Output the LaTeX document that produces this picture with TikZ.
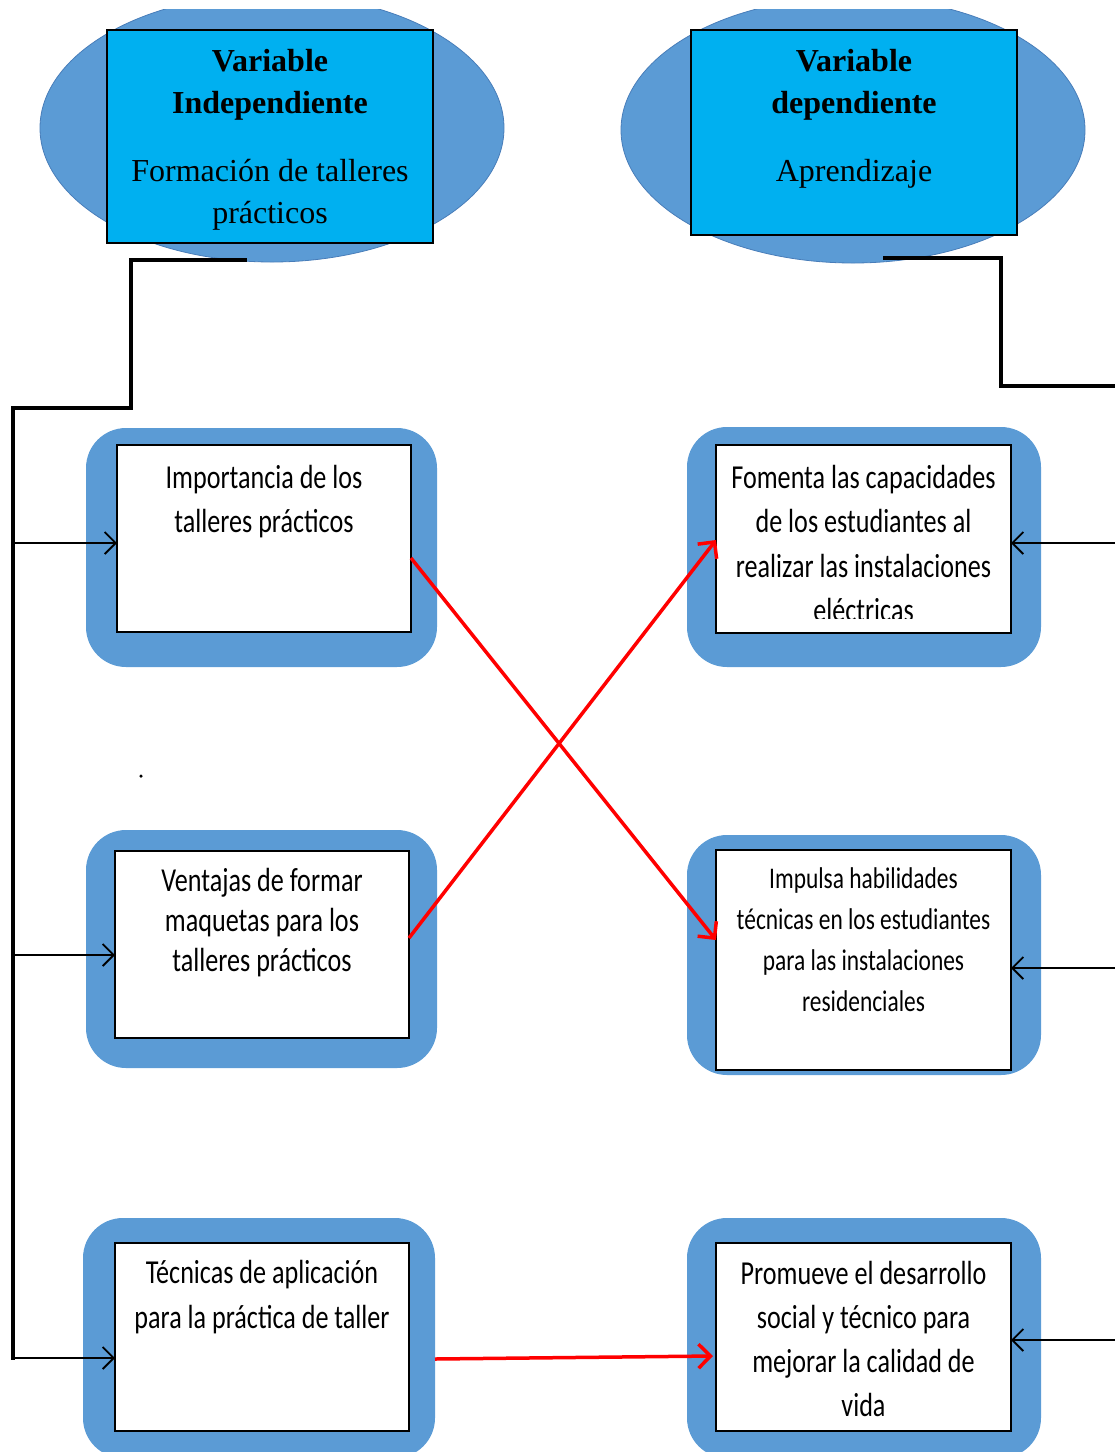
\documentclass[tikz,border=0pt]{standalone}
\usepackage{fontspec}
\setmainfont{Liberation Serif}
\newfontfamily\boxfont[FakeStretch=0.78]{Carlito}
\usetikzlibrary{shapes.geometric,arrows.meta,calc}
\definecolor{ovalblue}{RGB}{91,155,213}
\definecolor{ovaledge}{RGB}{72,125,185}
\definecolor{headcyan}{RGB}{0,176,240}
\definecolor{linkred}{RGB}{255,0,0}

\begin{document}
\begin{tikzpicture}[x=1pt,y=-1pt,
  oval/.style={ellipse, fill=ovalblue, draw=ovaledge, line width=0.8pt,
    inner sep=0pt, outer sep=0pt, minimum width=464pt},
  headbox/.style={rectangle, fill=headcyan, draw=black, line width=1.2pt,
    inner sep=0pt, outer sep=0pt, minimum width=326pt},
  headtext/.style={align=center, inner sep=0pt, anchor=north,
    font=\fontsize{32}{42}\selectfont},
  tile/.style={rectangle, rounded corners=40pt, fill=ovalblue,
    inner sep=0pt, outer sep=0pt},
  card/.style={rectangle, fill=white, draw=black, line width=2.7pt,
    inner sep=0pt, outer sep=0pt},
  cardtext/.style={align=center, inner sep=0pt, anchor=north},
  trunk/.style={line width=4pt},
  feed/.style={line width=1.8pt, -{Straight Barb[length=11pt,width=22pt]}},
  redlink/.style={draw=linkred, line width=3.5pt,
    -{Straight Barb[length=12pt,width=24pt]}},
]
\useasboundingbox (0,0) rectangle (1115,1452);
\clip (0,9) rectangle (1115,1452);

% variable ovals with their title boxes
\node[oval, minimum height=268pt] (e1) at (272,128) {};
\node[oval, minimum height=266pt] (e2) at (853,130) {};
\node[headbox, minimum height=213pt] (r1) at (270,136.5) {};
\node[headbox, minimum height=205pt] (r2) at (854,132.5) {};
\node[headtext] (h1) at ([yshift=-11.5pt]r1.north)
  {\strut\textbf{Variable}\\\textbf{Independiente}\\[26pt]Formación de talleres\\prácticos};
\node[headtext] (h2) at ([yshift=-11.5pt]r2.north)
  {\strut\textbf{Variable}\\\textbf{dependiente}\\[26pt]Aprendizaje};

% rounded blue frames
\node[tile, minimum width=351pt, minimum height=239pt] (o1) at (261.5,547.5) {};
\node[tile, minimum width=351pt, minimum height=238pt] (o2) at (261.5,949) {};
\node[tile, minimum width=352pt, minimum height=240pt] (o3) at (259,1338) {};
\node[tile, minimum width=354pt, minimum height=240pt] (o4) at (864,547) {};
\node[tile, minimum width=354pt, minimum height=240pt] (o5) at (864,955) {};
\node[tile, minimum width=354pt, minimum height=240pt] (o6) at (864,1338) {};

% white cards
\node[card, minimum width=294pt, minimum height=187pt] (i1) at (264,538.5) {};
\node[card, minimum width=294pt, minimum height=187pt] (i2) at (262,944.5) {};
\node[card, minimum width=294pt, minimum height=188pt] (i3) at (262,1337) {};
\node[card, minimum width=295pt, minimum height=188pt] (i4) at (863.5,539) {};
\node[card, minimum width=295pt, minimum height=220pt] (i5) at (863.5,960) {};
\node[card, minimum width=295pt, minimum height=188pt] (i6) at (863.5,1337) {};

% card texts
\node[cardtext, font=\boxfont\fontsize{33.5}{44}\selectfont] (t1)
  at ([yshift=-12pt]i1.north) {\strut Importancia de los\\talleres prácticos};
\node[cardtext, font=\boxfont\fontsize{33.5}{40}\selectfont] (t2)
  at ([yshift=-12pt]i2.north) {\strut Ventajas de formar\\maquetas para los\\talleres prácticos};
\node[cardtext, font=\boxfont\fontsize{33.5}{45}\selectfont] (t3)
  at ([yshift=-8.5pt]i3.north) {\strut Técnicas de aplicación\\para la práctica de taller};
\begin{scope}
  % the last line runs past the card and is cut off
  \clip (i4.north west) rectangle ([yshift=15pt]i4.south east);
  \node[cardtext, font=\boxfont\fontsize{33.5}{44.5}\selectfont] (t4)
    at ([yshift=-12pt]i4.north) {\strut Fomenta las capacidades\\de los estudiantes al\\realizar las instalaciones\\eléctricas};
\end{scope}
\node[cardtext, font=\boxfont\fontsize{30}{41}\selectfont] (t5)
  at ([yshift=-9.3pt]i5.north) {\strut Impulsa habilidades\\técnicas en los estudiantes\\para las instalaciones\\residenciales};
\node[cardtext, font=\boxfont\fontsize{33.5}{44}\selectfont] (t6)
  at ([yshift=-10pt]i6.north) {\strut Promueve el desarrollo\\social y técnico para\\mejorar la calidad de\\vida};

% stray mark
\node[circle, fill=black, inner sep=0pt, minimum size=3.5pt] (dot) at (141,776) {};

% left feeder line and arrows
\coordinate (lj) at (131,408);
\coordinate (lb) at (13,1360);
\draw[trunk] ([xshift=-25pt,yshift=2pt]e1.south) -| (lj) -| (lb);
\coordinate (a1) at ([yshift=-4.5pt]i1.west);
\coordinate (a2) at ([yshift=-10.5pt]i2.west);
\coordinate (a3) at ([yshift=-21pt]i3.west);
\draw[feed] (lb |- a1) -- (a1);
\draw[feed] (lb |- a2) -- (a2);
\draw[feed] (lb |- a3) -- (a3);

% right feeder line and arrows
\coordinate (rj) at (1001,386);
\coordinate (rr) at (1130,386);
\draw[trunk] ([xshift=30pt,yshift=5pt]e2.south) -| (rj) -- (rr);
\coordinate (b4) at ([yshift=-4pt]i4.east);
\coordinate (b5) at ([yshift=-8pt]i5.east);
\coordinate (b6) at ([yshift=-3pt]i6.east);
\draw[feed] (b4 -| rr) -- (b4);
\draw[feed] (b5 -| rr) -- (b5);
\draw[feed] (b6 -| rr) -- (b6);

% red links between the two columns
\draw[redlink] ([yshift=-19.5pt]i1.east) -- ([yshift=20pt]i5.west);
\draw[redlink] ([yshift=6.5pt]i2.east) -- ([yshift=-1pt]i4.west);
\draw[redlink] ([yshift=-21pt]o3.east) -- ([xshift=-3pt,yshift=-19pt]i6.west);
\end{tikzpicture}
\end{document}
